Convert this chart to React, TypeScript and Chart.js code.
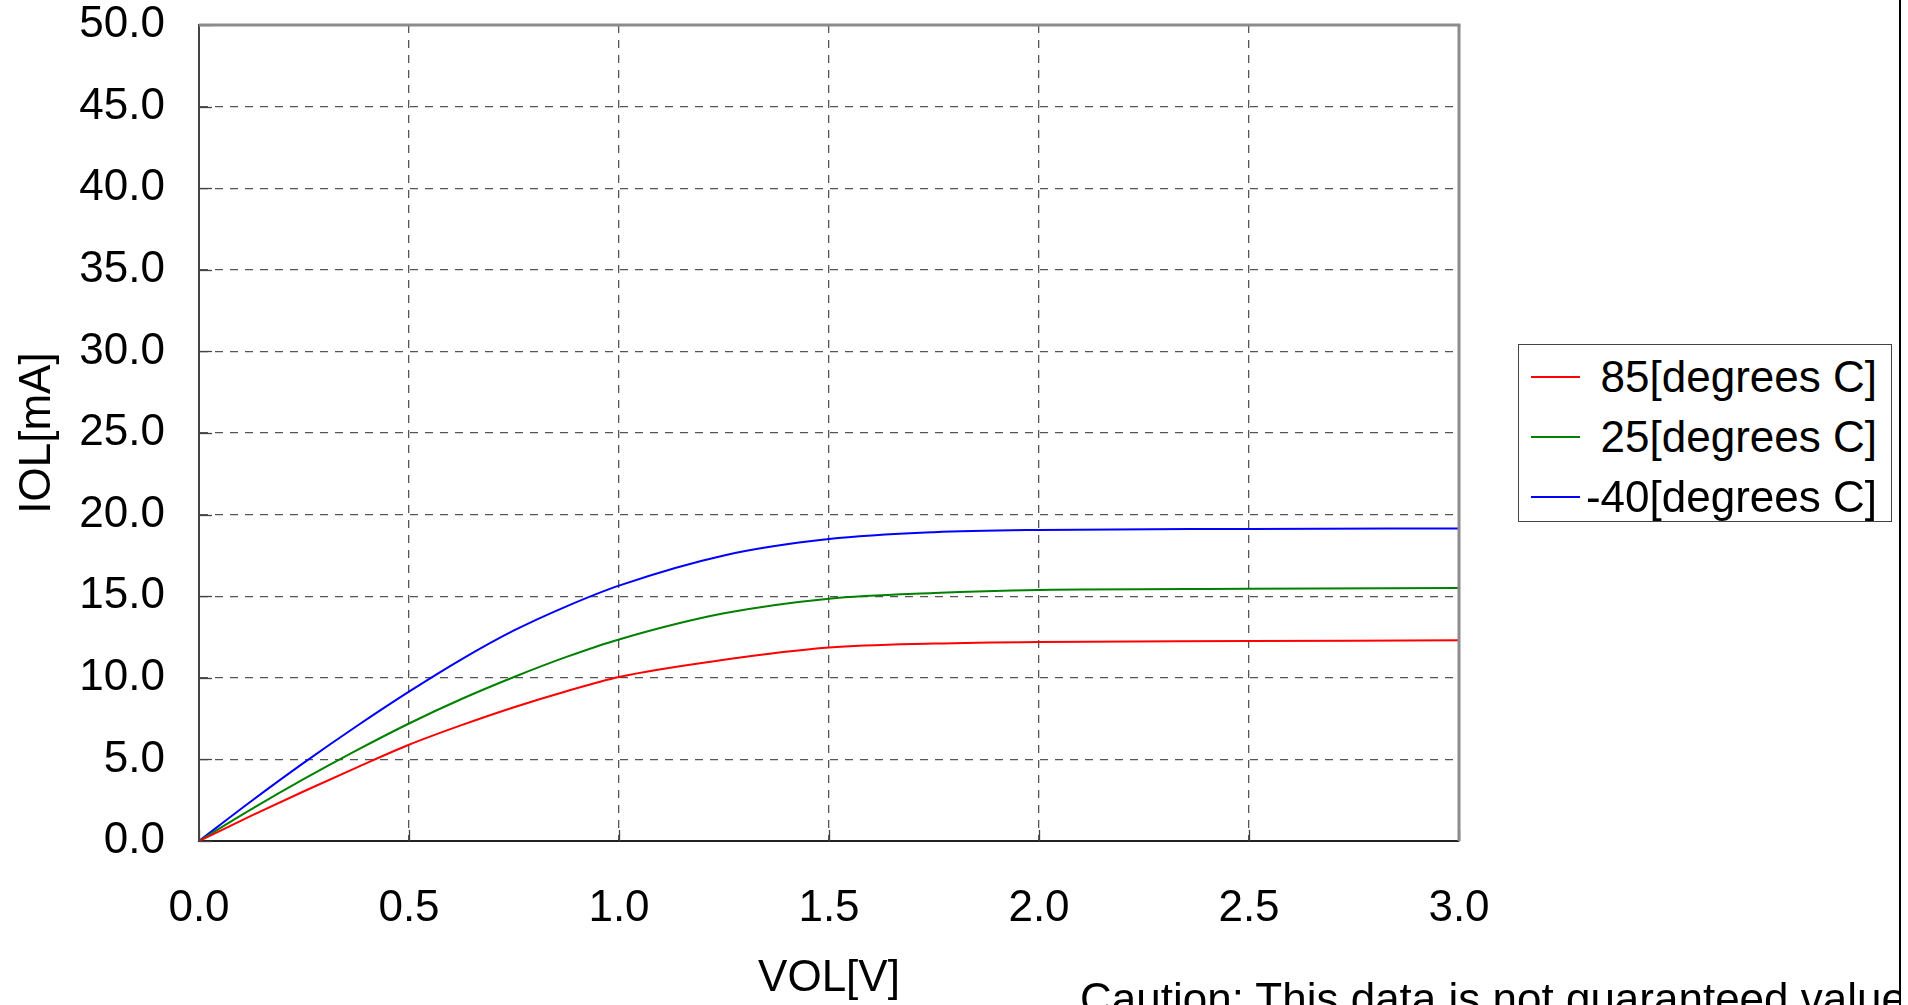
import React, { useEffect, useRef } from "react";
import { Chart, registerables } from "chart.js";

Chart.register(...registerables);

// ---- data ----
const VOL = [0, 0.125, 0.25, 0.375, 0.5, 0.625, 0.75, 0.875, 1.0, 1.25, 1.5, 1.75, 2.0, 2.5, 3.0];
const IOL_85 = [0, 1.55, 3.05, 4.5, 5.9, 7.1, 8.2, 9.18, 10.05, 11.1, 11.85, 12.1, 12.2, 12.25, 12.3];
const IOL_25 = [0, 1.95, 3.8, 5.55, 7.2, 8.7, 10.05, 11.28, 12.35, 13.95, 14.85, 15.2, 15.38, 15.45, 15.5];
const IOL_M40 = [0, 2.45, 4.8, 7.03, 9.15, 11.13, 12.9, 14.38, 15.65, 17.5, 18.5, 18.92, 19.06, 19.12, 19.15];
const SERIES_LABELS = ["85[degrees C]", "25[degrees C]", "-40[degrees C]"];
const SERIES_COLORS = ["#ff0000", "#008000", "#0000ff"];
const SERIES_VALUES = [IOL_85, IOL_25, IOL_M40];
const X_TITLE = "VOL[V]";
const Y_TITLE = "IOL[mA]";
const CAPTION = "Caution: This data is not guaranteed value";

const FONT = "'Liberation Sans', Arial, sans-serif";

const framePlugin = {
  id: "frame",
  afterDraw(chart: any) {
    const { ctx, chartArea, scales } = chart;
    const { left, top, right, bottom } = chartArea;
    const x = scales.x;
    const y = scales.y;
    const line = (x1: number, y1: number, x2: number, y2: number) => {
      ctx.beginPath();
      ctx.moveTo(x1, y1);
      ctx.lineTo(x2, y2);
      ctx.stroke();
    };
    ctx.save();
    ctx.setLineDash([]);
    ctx.strokeStyle = "#444";
    ctx.lineWidth = 1.3;
    y.ticks.forEach((t: any) => {
      const py = Math.round(y.getPixelForValue(t.value)) + 0.5;
      line(left, py, left + 13, py);
    });
    x.ticks.forEach((t: any) => {
      const px = Math.round(x.getPixelForValue(t.value)) + 0.5;
      line(px, bottom, px, bottom - 11);
    });
    ctx.strokeStyle = "#8c8c8c";
    ctx.lineWidth = 3;
    line(left, top, right + 1.5, top);
    line(right, top, right, bottom);
    ctx.restore();
  },
};

function LineChart() {
  const ref = useRef<HTMLCanvasElement | null>(null);
  useEffect(() => {
    if (!ref.current) return;
    const chart = new Chart(ref.current, {
      type: "line",
      data: {
        datasets: SERIES_VALUES.map((vals, i) => ({
          label: SERIES_LABELS[i],
          data: VOL.map((v, j) => ({ x: v, y: vals[j] })),
          borderColor: SERIES_COLORS[i],
          backgroundColor: SERIES_COLORS[i],
          borderWidth: 2,
          pointRadius: 0,
          cubicInterpolationMode: "monotone",
          fill: false,
        })),
      },
      options: {
        animation: false,
        responsive: false,
        devicePixelRatio: 1,
        layout: { padding: { left: 0, top: 25, right: 449, bottom: 0 } },
        plugins: { legend: { display: false }, tooltip: { enabled: false } },
        scales: {
          x: {
            type: "linear",
            min: 0,
            max: 3,
            afterFit: (s: any) => {
              s.height = 164;
              s.paddingLeft = 0;
              s.paddingRight = 0;
            },
            ticks: {
              stepSize: 0.5,
              color: "#000",
              padding: 41,
              font: { family: FONT, size: 44 },
              callback: (v: any) => Number(v).toFixed(1),
            },
            grid: { color: "#555", lineWidth: 1.3, drawTicks: false },
            border: { color: "#222", width: 2, dash: [8, 7] },
            title: {
              display: true,
              text: X_TITLE,
              color: "#000",
              font: { family: FONT, size: 44 },
              padding: { top: 0, bottom: 0 },
            },
          },
          y: {
            type: "linear",
            min: 0,
            max: 50,
            afterFit: (s: any) => {
              s.width = 199;
              s.paddingTop = 0;
              s.paddingBottom = 0;
            },
            ticks: {
              stepSize: 5,
              color: "#000",
              padding: 34,
              font: { family: FONT, size: 44, lineHeight: 1 },
              callback: (v: any) => Number(v).toFixed(1),
            },
            grid: { color: "#555", lineWidth: 1.3, drawTicks: false },
            border: { color: "#444", width: 2, dash: [8, 7] },
            title: {
              display: true,
              text: Y_TITLE,
              color: "#000",
              font: { family: FONT, size: 44 },
              padding: { top: 11, bottom: 0 },
            },
          },
        },
      },
      plugins: [framePlugin],
    } as any);
    return () => chart.destroy();
  }, []);
  return <canvas ref={ref} width={1908} height={1005} style={{ position: "absolute", left: 0, top: 0, width: 1908, height: 1005 }} />;
}

export default function App() {
  return (
    <div
      style={{
        position: "absolute",
        left: 0,
        top: 0,
        width: 1908,
        height: 1005,
        overflow: "hidden",
        background: "#fff",
        fontFamily: FONT,
      }}
    >
      <LineChart />
      <div
        style={{
          position: "absolute",
          left: 1518,
          top: 344,
          width: 372,
          height: 176,
          border: "1px solid #444",
          background: "#fff",
        }}
      >
        {SERIES_LABELS.map((lab, i) => (
          <div
            key={lab}
            style={{
              position: "absolute",
              left: 0,
              top: 2 + i * 60,
              width: 372,
              height: 60,
            }}
          >
            <div style={{ position: "absolute", left: 12, top: 29, width: 49, height: 2, background: SERIES_COLORS[i] }} />
            <div
              style={{
                position: "absolute",
                right: 14,
                top: 0,
                height: 60,
                lineHeight: "60px",
                fontSize: 44,
                color: "#000",
                whiteSpace: "nowrap",
              }}
            >
              {lab}
            </div>
          </div>
        ))}
      </div>
      <div
        style={{
          position: "absolute",
          left: 1080,
          top: 977,
          width: 819,
          height: 60,
          overflow: "hidden",
          fontSize: 44,
          lineHeight: "44px",
          whiteSpace: "nowrap",
          color: "#000",
        }}
      >
        {CAPTION}
      </div>
      <div style={{ position: "absolute", left: 1899, top: 0, width: 2, height: 1005, background: "#000" }} />
    </div>
  );
}
